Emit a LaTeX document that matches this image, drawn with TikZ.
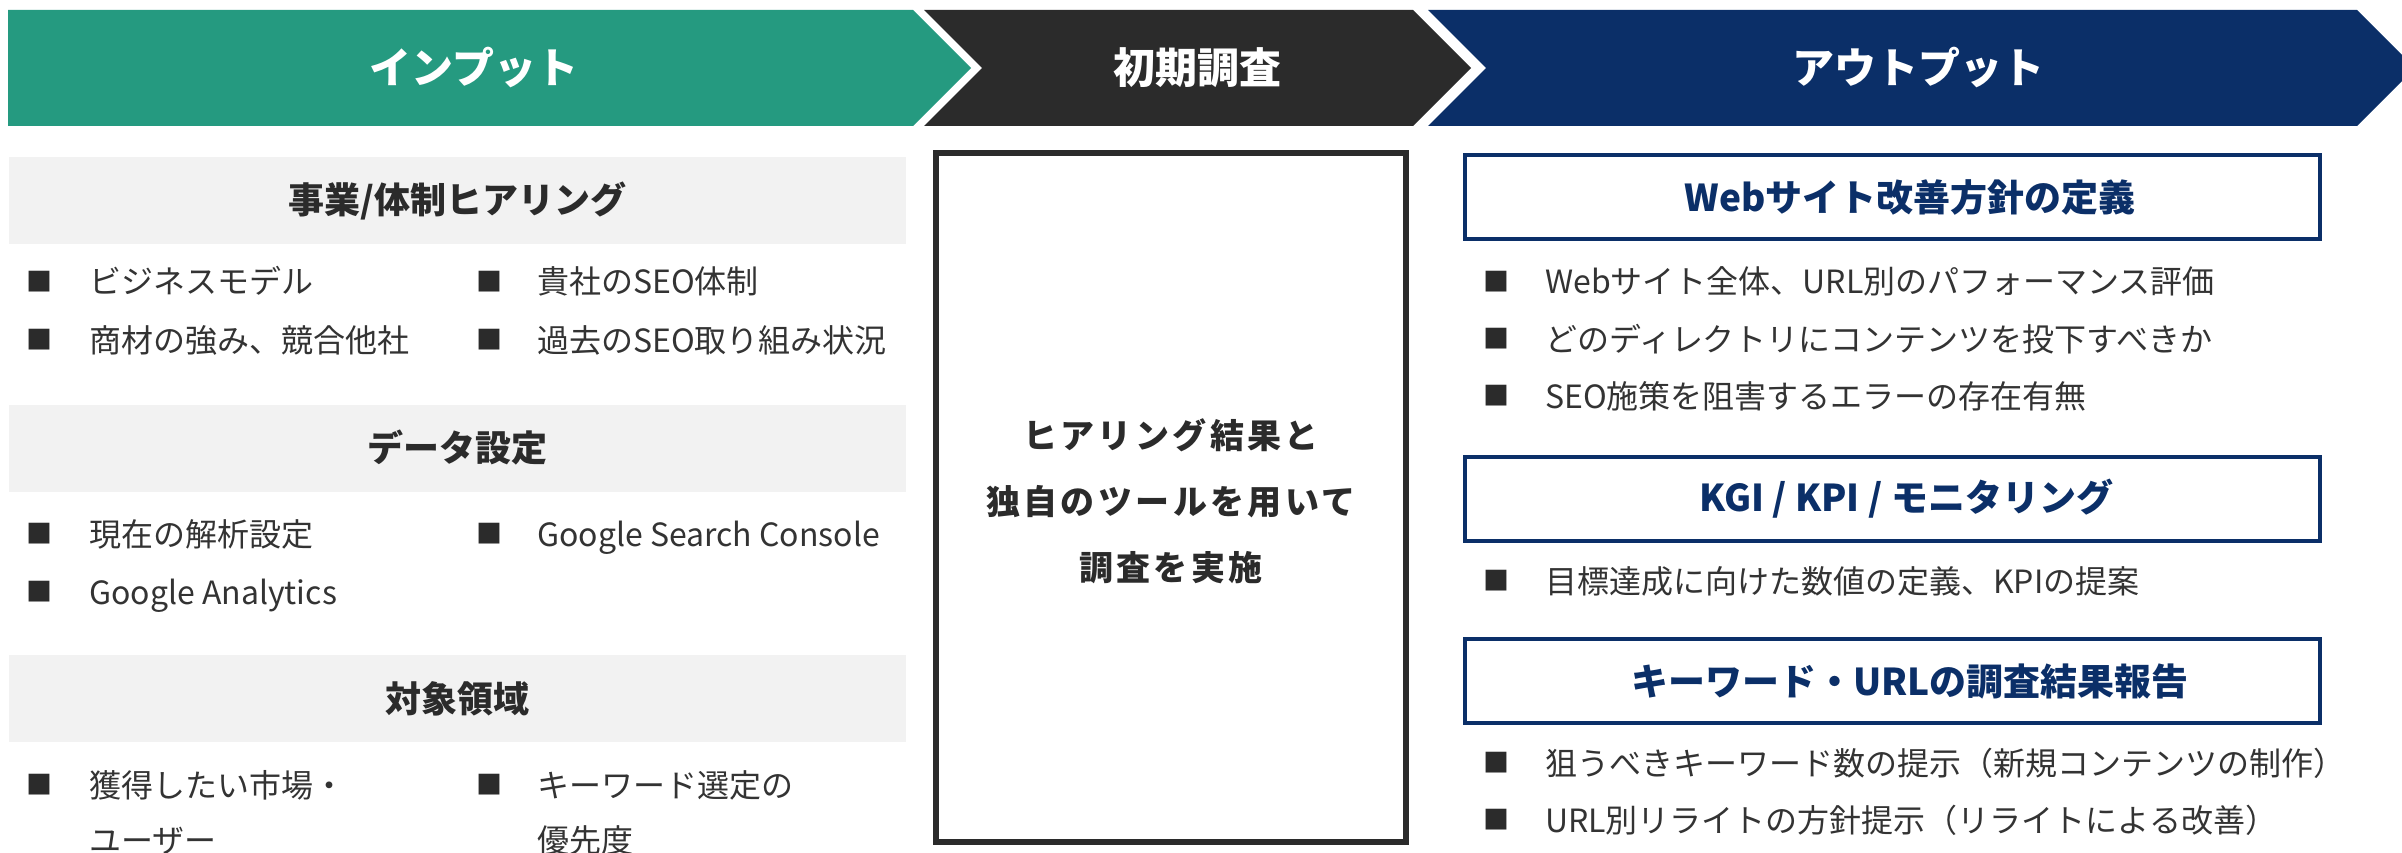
\documentclass[tikz,border=0pt]{standalone}
\usepackage{fontspec}
\setmainfont{Noto Sans CJK JP}
\newfontfamily\ctrfont{Noto Sans CJK JP}[LetterSpace=10]
\definecolor{cgreen}{HTML}{259A80}
\definecolor{cdark}{HTML}{2B2B2B}
\definecolor{cnavy}{HTML}{0B2F68}
\definecolor{cgray}{HTML}{F2F2F2}
\definecolor{ctext}{HTML}{333333}
\tikzset{
  bantext/.style={text=white, font=\fontsize{42}{48}\selectfont\bfseries, inner sep=0pt},
  grayhead/.style={fill=cgray, minimum width=897pt, minimum height=87pt, inner sep=0pt,
    text=cdark, font=\fontsize{36}{42}\selectfont\bfseries},
  bluebox/.style={draw=cnavy, line width=4pt, fill=white, minimum width=855pt, minimum height=84pt, inner sep=0pt},
  bluetitle/.style={text=cnavy, font=\fontsize{37}{42}\selectfont\bfseries, inner sep=0pt},
  bul/.style={text=cdark, font=\fontsize{26}{30}\selectfont, inner sep=0pt},
  itm/.style={anchor=west, text=ctext, font=\fontsize{32}{36}\selectfont, inner sep=0pt,
    text height=28pt, text depth=4pt},
  ctrbox/.style={draw=cdark, line width=6pt, minimum width=470pt, minimum height=689pt, inner sep=0pt},
  ctrtext/.style={text=cdark, align=center, font=\ctrfont\fontsize{34}{66}\selectfont\bfseries, inner sep=0pt}
}
\begin{document}
\begin{tikzpicture}[x=1pt,y=-1pt]
\useasboundingbox (0,0) rectangle (2402,853);
% banner chevrons
\fill[cgreen] (8,10) -- (913,10) -- (971,68) -- (913,126) -- (8,126) -- cycle;
\fill[cdark] (924,10) -- (1413,10) -- (1471,68) -- (1413,126) -- (924,126) -- (982,68) -- cycle;
\fill[cnavy] (1428,10) -- (2357,10) -- (2402,55) -- (2402,81) -- (2357,126) -- (1428,126) -- (1486,68) -- cycle;
\node[bantext] (tin) at (474,68) {インプット};
\node[bantext] (tmid) at (1197,68) {初期調査};
\node[bantext] (tout) at (1918,68) {アウトプット};

% left column
\node[grayhead] (h1) at (457.5,200.5) {事業/体制ヒアリング};
\node[bul] (b11) at (40,282) {■};
\node[itm] (t11) at (89,282) {ビジネスモデル};
\node[bul] (b12) at (489,282) {■};
\node[itm] (t12) at (537,282) {貴社のSEO体制};
\node[bul] (b13) at (40,340) {■};
\node[itm] (t13) at (89,340) {商材の強み、競合他社};
\node[bul] (b14) at (489,340) {■};
\node[itm] (t14) at (537,340) {過去のSEO取り組み状況};

\node[grayhead] (h2) at (457.5,448) {データ設定};
\node[bul] (b21) at (40,534) {■};
\node[itm] (t21) at (89,534) {現在の解析設定};
\node[bul] (b22) at (489,534) {■};
\node[itm] (t22) at (537,534) {Google Search Console};
\node[bul] (b23) at (40,592) {■};
\node[itm] (t23) at (89,592) {Google Analytics};

\node[grayhead] (h3) at (457.5,698.5) {対象領域};
\node[bul] (b31) at (40,785) {■};
\node[itm] (t31) at (89,785) {獲得したい市場・};
\node[itm] (t31b) at (89,840) {ユーザー};
\node[bul] (b32) at (489,785) {■};
\node[itm] (t32) at (537,785) {キーワード選定の};
\node[itm] (t32b) at (537,840) {優先度};

% center
\node[ctrbox] (cbox) at (1171,497.5) {};
\node[ctrtext] (ctxt) at (1171,501) {ヒアリング結果と\\独自のツールを用いて\\調査を実施};

% right column
\node[bluebox] (r1) at (1892.5,197) {};
\node[bluetitle] (r1t) at (1910,197) {Webサイト改善方針の定義};
\node[bul] (rb11) at (1496,282) {■};
\node[itm] (rt11) at (1545,282) {Webサイト全体、URL別のパフォーマンス評価};
\node[bul] (rb12) at (1496,339) {■};
\node[itm] (rt12) at (1545,339) {どのディレクトリにコンテンツを投下すべきか};
\node[bul] (rb13) at (1496,396) {■};
\node[itm] (rt13) at (1545,396) {SEO施策を阻害するエラーの存在有無};

\node[bluebox] (r2) at (1892.5,498.5) {};
\node[bluetitle] (r2t) at (1906,498.5) {KGI / KPI / モニタリング};
\node[bul] (rb21) at (1496,581) {■};
\node[itm] (rt21) at (1545,581) {目標達成に向けた数値の定義、KPIの提案};

\node[bluebox] (r3) at (1892.5,681) {};
\node[bluetitle] (r3t) at (1910,681) {キーワード・URLの調査結果報告};
\node[bul] (rb31) at (1496,763) {■};
\node[itm] (rt31) at (1545,763) {狙うべきキーワード数の提示（新規コンテンツの制作）};
\node[bul] (rb32) at (1496,820) {■};
\node[itm] (rt32) at (1545,820) {URL別リライトの方針提示（リライトによる改善）};
\end{tikzpicture}
\end{document}
